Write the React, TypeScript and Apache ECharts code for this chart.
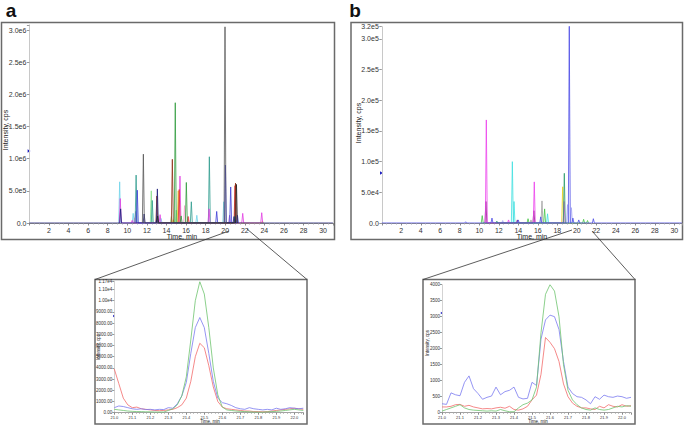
import React, { useEffect, useRef } from "react";
import * as echarts from "echarts";

const FONT = "'Liberation Sans', Arial, sans-serif";

// ---- Panel a: main chromatogram, peaks [time min, intensity cps] ----
const aGray = [[11.64, 1.07e6], [19.98, 3.05e6]];
const aBlack = [[21.15, 6.0e5], [13.1, 1.1e5]];
const aGreen = [[14.9, 1.87e6], [16.03, 6.3e5], [21.0, 1.0e5], [15.5, 1.1e5]];
const aTeal = [[10.9, 7.45e5], [18.38, 1.03e6], [16.54, 3.3e5], [12.55, 3.5e5]];
const aBlue = [[11.02, 5.1e5], [20.02, 9.0e5], [20.56, 5.6e5], [19.13, 1.8e5], [21.25, 1.2e5], [13.0, 5e4]];
const aNavy = [[13.07, 5.3e5], [9.32, 2.2e5], [11.72, 1.4e5], [20.9, 1.0e5]];
const aMagenta = [[9.28, 3.8e5], [15.38, 7.3e5], [18.35, 2.2e5], [21.79, 1.5e5], [23.73, 1.6e5], [10.5, 4e4], [13.35, 1.3e5]];
const aCyan = [[9.22, 6.4e5], [17.1, 1.2e5], [19.85, 3.3e5], [10.6, 1.5e5], [13.45, 7e4]];
const aBrown = [[14.6, 9.9e5], [21.05, 6.2e5], [13.02, 4.2e5]];
const aRed = [[15.3, 5.2e5], [16.2, 1.0e5], [21.0, 5.8e5]];
const aYellow = [[15.2, 5.0e5], [23.8, 3e4], [14.7, 5e4]];
const aLightGreen = [[12.45, 5.0e5], [14.5, 1.0e5], [15.0, 2.0e5]];
const aPink = [[15.85, 2.7e5], [16.25, 1.0e5], [10.75, 8e4]];
const aPurple = [[10.85, 1.8e5], [20.45, 1.2e5]];

// ---- Panel b: main chromatogram ----
const bMagenta = [[10.72, 1.68e5], [15.64, 6.7e4], [18.7, 3.5e4], [13.0, 5e3]];
const bPurple = [[10.68, 3.5e4], [15.6, 2.0e4], [13.9, 5e3]];
const bCyan = [[13.39, 1.0e5], [13.56, 3.5e4], [17.0, 1.5e4]];
const bGray = [[16.43, 3.6e4], [15.3, 5e3]];
const bGreen = [[16.7, 2.3e4], [10.3, 1.2e4], [15.0, 7e3], [20.7, 6e3], [21.1, 4e3]];
const bYellow = [[18.55, 5.9e4]];
const bTeal = [[18.72, 8.1e4], [11.8, 3e3]];
const bBlue = [[19.23, 3.21e5], [16.3, 1.0e4], [19.6, 8e3], [21.7, 7e3], [11.3, 8e3], [14.0, 5e3], [20.2, 5e3], [8.6, 2e3]];
const bLightBlue = [[19.05, 3.0e4], [19.45, 2.5e4], [12.4, 4e3]];

// ---- Insets (zoom 21.0 - 22.05 min) ----
const insetTimes = [21.0, 21.025, 21.05, 21.075, 21.1, 21.125, 21.15, 21.175, 21.2, 21.225, 21.25, 21.275, 21.3, 21.325, 21.35, 21.375, 21.4, 21.425, 21.45, 21.475, 21.5, 21.525, 21.55, 21.575, 21.6, 21.625, 21.65, 21.675, 21.7, 21.725, 21.75, 21.775, 21.8, 21.825, 21.85, 21.875, 21.9, 21.925, 21.95, 21.975, 22.0, 22.025, 22.05];

const insetABlue = [450, 600, 550, 450, 350, 300, 350, 280, 300, 250, 300, 280, 450, 400, 800, 1500, 2700, 5300, 7600, 8500, 7600, 5300, 2800, 1300, 900, 800, 650, 450, 350, 300, 450, 350, 300, 250, 300, 250, 400, 300, 350, 450, 400, 350, 400];
const insetARed = [3900, 2600, 1300, 700, 450, 500, 350, 300, 250, 200, 180, 200, 250, 300, 450, 700, 1300, 2800, 5000, 6200, 5800, 4200, 2300, 1000, 500, 350, 300, 250, 200, 150, 150, 100, 100, 80, 100, 150, 200, 250, 300, 350, 400, 350, 300];
const insetAGreen = [300, 250, 200, 150, 120, 100, 100, 80, 80, 60, 60, 60, 200, 350, 700, 1500, 3200, 6500, 10000, 11700, 10600, 7600, 4000, 1600, 500, 250, 200, 150, 120, 100, 80, 60, 50, 50, 80, 100, 120, 150, 200, 250, 300, 250, 200];

const insetBBlue = [280, 260, 620, 560, 530, 950, 1150, 750, 600, 420, 480, 520, 800, 560, 660, 700, 800, 480, 430, 450, 950, 850, 2300, 2900, 3050, 3000, 2600, 1600, 800, 600, 500, 480, 400, 280, 500, 420, 550, 500, 480, 520, 500, 450, 480];
const insetBRed = [180, 180, 200, 250, 260, 200, 230, 180, 150, 120, 130, 120, 150, 170, 140, 200, 100, 80, 120, 200, 400, 550, 1200, 2350, 2200, 2000, 1600, 900, 500, 300, 200, 150, 150, 120, 100, 200, 150, 250, 200, 180, 250, 200, 220];
const insetBGreen = [50, 100, 150, 200, 250, 150, 100, 80, 70, 60, 50, 60, 50, 100, 60, 30, 30, 150, 250, 300, 400, 800, 2500, 3700, 4000, 3800, 3000, 1500, 700, 400, 250, 150, 100, 80, 150, 100, 80, 100, 150, 200, 180, 220, 200];

const yLabelsA: [number, string][] = [[0, "0.0"], [5e5, "5.0e5"], [1e6, "1.0e6"], [1.5e6, "1.5e6"], [2e6, "2.0e6"], [2.5e6, "2.5e6"], [3e6, "3.0e6"]];
const yLabelsB: [number, string][] = [[0, "0.0"], [5e4, "5.0e4"], [1e5, "1.0e5"], [1.5e5, "1.5e5"], [2e5, "2.0e5"], [2.5e5, "2.5e5"], [3e5, "3.0e5"], [3.2e5, "3.2e5"]];
const yLabelsInsetA: [number, string][] = [[0, "0.00"], [1000, "1000.00"], [2000, "2000.00"], [3000, "3000.00"], [4000, "4000.00"], [5000, "5000.00"], [6000, "6000.00"], [7000, "7000.00"], [8000, "8000.00"], [9000, "9000.00"], [10000, "1.00e4"], [11000, "1.10e4"], [11700, "1.17e4"]];

function spikes(peaks: number[][], hw = 0.1, from?: number, to?: number) {
  const sorted = [...peaks].sort((p, q) => p[0] - q[0]);
  const out: number[][] = [];
  if (from !== undefined) out.push([from, 0]);
  for (const [t, h] of sorted) {
    out.push([t - hw, 0], [t, h], [t + hw, 0]);
  }
  if (to !== undefined) out.push([to, 0]);
  return out;
}

function labelFrom(list: [number, string][]) {
  return (v: number) => {
    for (const [val, lab] of list) if (Math.abs(val - v) < 1e-6 * Math.max(1, Math.abs(val))) return lab;
    return "";
  };
}

export default function App() {
  const ref = useRef<HTMLDivElement>(null);
  useEffect(() => {
    if (!ref.current) return;
    const chart = echarts.init(ref.current, undefined, { renderer: "svg" });

    const mainX = (gi: number, max: number) => ({
      type: "value", gridIndex: gi, min: 0, max, interval: 2,
      axisLine: { show: true, lineStyle: { color: "#8a8a8a", width: 1 } },
      axisTick: { show: true, length: 2.5, lineStyle: { color: "#8a8a8a" } },
      minorTick: { show: true, splitNumber: 4, length: 1.5, lineStyle: { color: "#aaa" } },
      axisLabel: { fontSize: 7, color: "#333", fontFamily: FONT, margin: 4, showMinLabel: false, showMaxLabel: false, formatter: (v: number) => (v > 0 && v <= 30 ? String(v) : "") },
      splitLine: { show: false },
    });
    const mainY = (gi: number, max: number, interval: number, labels: [number, string][]) => ({
      type: "value", gridIndex: gi, min: 0, max, interval,
      axisLine: { show: true, lineStyle: { color: "#c8c8c8", width: 1 } },
      axisTick: { show: true, length: 2.5, lineStyle: { color: "#999" } },
      axisLabel: { fontSize: 7, color: "#333", fontFamily: FONT, margin: 3, formatter: labelFrom(labels) },
      splitLine: { show: false },
    });
    const insetX = (gi: number) => ({
      type: "value", gridIndex: gi, min: 21.0, max: 22.05, interval: 0.1,
      axisLine: { show: true, lineStyle: { color: "#8a8a8a", width: 0.8 } },
      axisTick: { show: true, length: 2, lineStyle: { color: "#8a8a8a" } },
      minorTick: { show: true, splitNumber: 5, length: 1, lineStyle: { color: "#aaa" } },
      axisLabel: { fontSize: 4, color: "#333", fontFamily: FONT, margin: 2.5, showMaxLabel: false, formatter: (v: number) => (v <= 22.001 ? v.toFixed(1) : "") },
      splitLine: { show: false },
    });
    const insetY = (gi: number, max: number, interval: number, fmt: (v: number) => string) => ({
      type: "value", gridIndex: gi, min: 0, max, interval,
      axisLine: { show: true, lineStyle: { color: "#c8c8c8", width: 0.8 } },
      axisTick: { show: true, length: 2, lineStyle: { color: "#999" } },
      axisLabel: { fontSize: 4.5, color: "#333", fontFamily: FONT, margin: 2, formatter: fmt },
      splitLine: { show: false },
    });

    const mkMain = (peaks: number[][], color: string, xi: number, from?: number, to?: number) => ({
      type: "line", xAxisIndex: xi, yAxisIndex: xi, data: spikes(peaks, 0.1, from, to),
      symbol: "none", lineStyle: { color, width: 0.8 }, silent: true,
    });
    const mkInset = (vals: number[], color: string, xi: number) => ({
      type: "line", xAxisIndex: xi, yAxisIndex: xi, data: insetTimes.map((t, i) => [t, vals[i]]),
      symbol: "none", lineStyle: { color, width: 0.8 }, silent: true,
    });

    const series = [
      mkMain(aCyan, "#6fd3ea", 0),
      mkMain(aLightGreen, "#86e08a", 0),
      mkMain(aYellow, "#e0cc2a", 0),
      mkMain(aPink, "#f39ac8", 0),
      mkMain(aPurple, "#9a5ad0", 0),
      mkMain(aTeal, "#2f9c8e", 0),
      mkMain(aMagenta, "#e23ce2", 0),
      mkMain(aRed, "#e53030", 0),
      mkMain(aBrown, "#8e2c12", 0),
      mkMain(aGreen, "#2f9a3c", 0),
      mkMain(aBlue, "#3c3cd6", 0),
      mkMain(aNavy, "#1e1e78", 0, 0, 31),
      mkMain(aBlack, "#222222", 0),
      mkMain(aGray, "#555555", 0),
      mkMain(bLightBlue, "#a6a6f2", 1),
      mkMain(bGray, "#a0a0a0", 1),
      mkMain(bCyan, "#3fe0e0", 1),
      mkMain(bGreen, "#44c444", 1),
      mkMain(bYellow, "#e6d21e", 1),
      mkMain(bPurple, "#7a2272", 1),
      mkMain(bMagenta, "#ec40ec", 1),
      mkMain(bTeal, "#2a9a6a", 1),
      mkMain(bBlue, "#4a4ae6", 1, 0, 30.77),
      mkInset(insetARed, "#f26b6b", 2),
      mkInset(insetABlue, "#7a7af0", 2),
      mkInset(insetAGreen, "#6fc46f", 2),
      mkInset(insetBRed, "#f26b6b", 3),
      mkInset(insetBBlue, "#7a7af0", 3),
      mkInset(insetBGreen, "#6fc46f", 3),
    ];

    const boxStyle = { fill: "none", stroke: "#6a6a6a", lineWidth: 1.5 };
    const lineStyle = { stroke: "#333", lineWidth: 0.8 };
    const txt = (x: number, y: number, text: string, size: number, extra: any = {}) => ({
      type: "text", x, y, silent: true,
      style: { text, fontSize: size, fontFamily: FONT, fill: "#222", align: "center", verticalAlign: "middle", ...extra.style },
      ...extra.el,
    });
    const marker = (x: number, y: number, s: number) => ({
      type: "polygon", silent: true,
      shape: { points: [[x - s, y - s], [x + s * 0.6, y], [x - s, y + s]] },
      style: { fill: "#2020c0" },
    });

    chart.setOption({
      animation: false,
      grid: [
        { left: 29.4, top: 24.9, width: 303.5, bottom: 202 },
        { left: 381.8, top: 26.7, width: 300, bottom: 202 },
        { left: 114.3, top: 281.7, width: 189, bottom: 12.3 },
        { left: 442, top: 284.7, width: 189, bottom: 12.3 },
      ],
      xAxis: [mainX(0, 31), mainX(1, 30.77), insetX(2), insetX(3)],
      yAxis: [
        mainY(0, 3.08e6, 5e5, yLabelsA),
        mainY(1, 3.2e5, 5e4, yLabelsB),
        insetY(2, 11700, 1000, labelFrom(yLabelsInsetA)),
        insetY(3, 4000, 500, (v: number) => String(v)),
      ],
      series,
      graphic: [
        { type: "rect", silent: true, shape: { x: 1.5, y: 22.5, width: 333, height: 217 }, style: boxStyle },
        { type: "rect", silent: true, shape: { x: 351, y: 22.5, width: 331.5, height: 217 }, style: boxStyle },
        { type: "rect", silent: true, shape: { x: 95, y: 279.5, width: 212, height: 144.5 }, style: boxStyle },
        { type: "rect", silent: true, shape: { x: 423, y: 279.5, width: 212, height: 144.5 }, style: boxStyle },
        { type: "line", silent: true, shape: { x1: 229, y1: 231, x2: 95, y2: 279.5 }, style: lineStyle },
        { type: "line", silent: true, shape: { x1: 247, y1: 229, x2: 307, y2: 279.5 }, style: lineStyle },
        { type: "line", silent: true, shape: { x1: 572, y1: 230, x2: 423, y2: 279.5 }, style: lineStyle },
        { type: "line", silent: true, shape: { x1: 592, y1: 231, x2: 635, y2: 279.5 }, style: lineStyle },
        txt(11, 10, "a", 19, { style: { fontWeight: "bold", fill: "#111" } }),
        txt(355, 10, "b", 19, { style: { fontWeight: "bold", fill: "#111" } }),
        txt(5.5, 130, "Intensity, cps", 7, { el: { rotation: Math.PI / 2 } }),
        txt(358, 123, "Intensity, cps", 7, { el: { rotation: Math.PI / 2 } }),
        txt(182, 236, "Time, min", 7),
        txt(532, 236, "Time, min", 7),
        txt(98.5, 347, "Intensity, cps", 4.5, { el: { rotation: Math.PI / 2 } }),
        txt(427, 343, "Intensity, cps", 4.5, { el: { rotation: Math.PI / 2 } }),
        txt(210, 421, "Time, min", 4.5),
        txt(538, 421, "Time, min", 4.5),
        marker(29.4, 151, 1.8),
        marker(381.8, 173, 1.8),
        marker(114.3, 316, 1.2),
        marker(442, 313, 1.2),
      ],
    });
    return () => chart.dispose();
  }, []);
  return <div ref={ref} style={{ position: "fixed", left: 0, top: 0, width: 684, height: 425, background: "#fff" }} />;
}
